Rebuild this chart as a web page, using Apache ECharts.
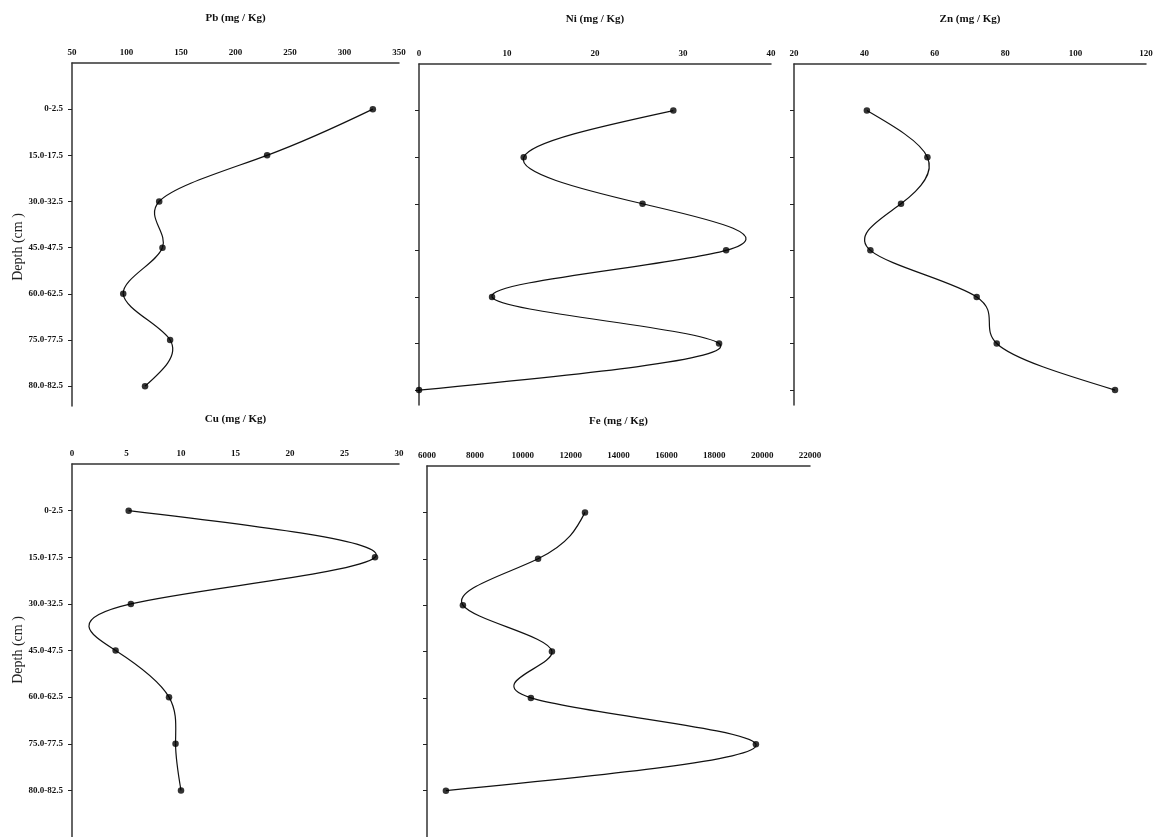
<!DOCTYPE html>
<html>
<head>
<meta charset="utf-8">
<script src="https://cdn.jsdelivr.net/npm/echarts@6/dist/echarts.min.js"></script>
<style>html,body{margin:0;padding:0;background:#fff;}#c{width:1157px;height:837px;}</style>
</head>
<body>
<div id="c"></div>
<script>
const depths = ['0-2.5', '15.0-17.5', '30.0-32.5', '45.0-47.5', '60.0-62.5', '75.0-77.5', '80.0-82.5'];
const pb = [326, 229, 130, 133, 97, 140, 117];
const ni = [28.9, 11.9, 25.4, 34.9, 8.3, 34.1, 0];
const zn = [40.7, 57.9, 50.4, 41.7, 71.9, 77.6, 111.2];
const cu = [5.2, 27.8, 5.4, 4.0, 8.9, 9.5, 10.0];
const fe = [12600, 10640, 7500, 11220, 10340, 19740, 6790];

const titles = ['Pb (mg / Kg)', 'Ni (mg / Kg)', 'Zn (mg / Kg)', 'Cu (mg / Kg)', 'Fe (mg / Kg)'];
const xRanges = [[50, 350, 50], [0, 40, 10], [20, 120, 20], [0, 30, 5], [6000, 22000, 2000]];
const seriesValues = [pb, ni, zn, cu, fe];
const yAxisName = 'Depth (cm )';

const grids = [
  {left: 72, top: 63, width: 327, height: 343},
  {left: 419, top: 64, width: 352, height: 341},
  {left: 794, top: 64, width: 352, height: 341},
  {left: 72, top: 464, width: 327, height: 373},
  {left: 427, top: 466, width: 383, height: 371}
];
const yMax = [6.43, 6.32, 6.32, 7.0, 7.0];
const showYLabels = [true, false, false, true, false];

const serifBold = {fontFamily: 'Liberation Serif', fontWeight: 'bold'};
const idx = depths.map((d, i) => i);

// natural cubic spline (value as a function of depth index) second derivatives
function splineM(ys) {
  const n = ys.length;
  const M = new Array(n).fill(0);
  const c = new Array(n).fill(0), d = new Array(n).fill(0);
  for (let i = 1; i < n - 1; i++) {
    const rhs = 6 * (ys[i + 1] - 2 * ys[i] + ys[i - 1]);
    const den = 4 - (i > 1 ? c[i - 1] : 0);
    c[i] = 1 / den;
    d[i] = (rhs - (i > 1 ? d[i - 1] : 0)) / den;
  }
  for (let i = n - 2; i >= 1; i--) {
    M[i] = d[i] - c[i] * M[i + 1];
  }
  return M;
}

function makeRender(ys) {
  const M = splineM(ys);
  return function (params, api) {
    const i = params.dataIndex;
    if (i >= ys.length - 1) return null;
    const y0 = ys[i], y1 = ys[i + 1];
    const s = y1 - y0;
    const D0 = s - (2 * M[i] + M[i + 1]) / 6;
    const D1 = s + (M[i] + 2 * M[i + 1]) / 6;
    const p0 = api.coord([y0, i]);
    const c1 = api.coord([y0 + D0 / 3, i + 1 / 3]);
    const c2 = api.coord([y1 - D1 / 3, i + 2 / 3]);
    const p1 = api.coord([y1, i + 1]);
    return {
      type: 'bezierCurve',
      shape: {x1: p0[0], y1: p0[1], cpx1: c1[0], cpy1: c1[1], cpx2: c2[0], cpy2: c2[1], x2: p1[0], y2: p1[1]},
      style: {stroke: '#111', lineWidth: 1.2, fill: 'none'}
    };
  };
}

const xAxes = [], yAxes = [], series = [];
grids.forEach((g, i) => {
  xAxes.push({
    type: 'value', gridIndex: i, position: 'top',
    min: xRanges[i][0], max: xRanges[i][1], interval: xRanges[i][2],
    name: titles[i], nameLocation: 'middle', nameGap: 39,
    nameTextStyle: Object.assign({fontSize: 11, color: '#111'}, serifBold),
    axisLine: {show: true, onZero: false, lineStyle: {color: '#333', width: 1.5}},
    axisTick: {show: false},
    splitLine: {show: false},
    axisLabel: Object.assign({fontSize: 9, color: '#111', margin: 6, formatter: v => String(v)}, serifBold)
  });
  yAxes.push({
    type: 'value', gridIndex: i, inverse: true,
    min: -1, max: yMax[i], interval: 1,
    axisLine: {show: true, onZero: false, lineStyle: {color: '#333', width: 1.5}},
    axisTick: {show: true, inside: false, length: 4, customValues: idx, lineStyle: {color: '#222'}},
    splitLine: {show: false},
    axisLabel: Object.assign({
      show: showYLabels[i], fontSize: 9, color: '#111', margin: 9, customValues: idx,
      formatter: v => (v >= 0 && v < depths.length && Number.isInteger(v)) ? depths[v] : ''
    }, serifBold)
  });
  const data = seriesValues[i].map((v, k) => [v, k]);
  series.push({
    type: 'custom', xAxisIndex: i, yAxisIndex: i,
    data: data, encode: {x: 0, y: 1},
    renderItem: makeRender(seriesValues[i]),
    clip: false, silent: true, animation: false, z: 2
  });
  series.push({
    type: 'scatter', xAxisIndex: i, yAxisIndex: i,
    data: data,
    symbol: 'circle', symbolSize: 6.5,
    itemStyle: {color: '#000'},
    silent: true, animation: false, z: 3
  });
});

const chart = echarts.init(document.getElementById('c'), null, {renderer: 'canvas'});
chart.setOption({
  backgroundColor: '#fff',
  animation: false,
  grid: grids,
  xAxis: xAxes,
  yAxis: yAxes,
  series: series,
  graphic: [
    {type: 'text', x: 18, y: 247, rotation: Math.PI / 2,
     style: {text: yAxisName, font: '14px "Liberation Serif"', fill: '#222', align: 'center', verticalAlign: 'middle'}},
    {type: 'text', x: 18, y: 650, rotation: Math.PI / 2,
     style: {text: yAxisName, font: '14px "Liberation Serif"', fill: '#222', align: 'center', verticalAlign: 'middle'}}
  ]
});
</script>
</body>
</html>
